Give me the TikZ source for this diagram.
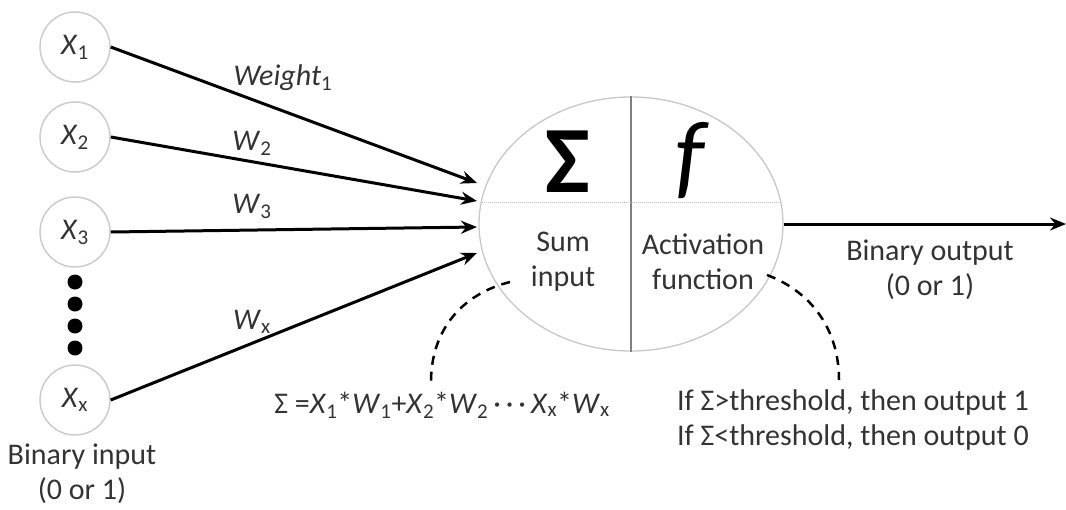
\documentclass[tikz,border=0pt]{standalone}
\usepackage{fontspec}
\setmainfont{Carlito}
\usetikzlibrary{shapes.geometric,arrows.meta}
\begin{document}
\begin{tikzpicture}[x=1pt,y=-1pt,
  inp/.style={circle,draw=black!20,line width=1.5pt,minimum size=70pt,inner sep=0pt,font=\fontsize{30}{36}\selectfont,text=black!80},
  txt/.style={font=\fontsize{30}{35}\selectfont,text=black!80,align=center,inner sep=0pt},
  wire/.style={line width=3pt,-{Stealth[length=16pt,width=13pt]}},
  dashcurve/.style={line width=2.5pt,dash pattern=on 9pt off 7pt},
  bigdot/.style={circle,fill=black,minimum size=15pt,inner sep=0pt},
  big/.style={font=\fontsize{95}{100}\selectfont,inner sep=0pt}]
\useasboundingbox (0,0) rectangle (1066,509);

% inputs
\node[inp] (x1) at (75,47)  {\textit{X}\textsubscript{1}};
\node[inp] (x2) at (75,137) {\textit{X}\textsubscript{2}};
\node[inp] (x3) at (75,232) {\textit{X}\textsubscript{3}};
\node[inp] (xx) at (75,400) {\textit{X}\textsubscript{x}};
\node[bigdot] (d1) at (75,282) {};
\node[bigdot] (d2) at (75,304) {};
\node[bigdot] (d3) at (75,326) {};
\node[bigdot] (d4) at (75,348) {};
\node[txt] (bin) at (82,474) {Binary input\\(0 or 1)};

% neuron
\node[ellipse,draw=black!22,line width=1.3pt,minimum width=304pt,minimum height=254pt,inner sep=0pt] (neuron) at (631,224) {};
\draw[black!50,line width=1.8pt] (neuron.north) -- (neuron.south);
\coordinate (hl) at (482,202);
\coordinate (hr) at (780,202);
\draw[black!25,line width=1pt,densely dotted] (hl) -- (hr);
\node[big] (sigma) at (568,162) {\bfseries Σ};
\node[big] (fsym) at (692,160) {\textit{f}};
\node[txt] (sum) at (563,262) {Sum\\input};
\node[txt] (act) at (703,262) {Activation\\function};

% weights
\coordinate (in1) at (477,183);
\coordinate (in2) at (477,201);
\coordinate (in3) at (477,227);
\coordinate (in4) at (477,253);
\draw[wire] (x1.east) -- (in1);
\draw[wire] (x2.east) -- (in2);
\draw[wire] (x3.east) -- (in3);
\draw[wire] (xx.east) -- (in4);
\node[txt] (w1) at (283,78) {\textit{Weight}\textsubscript{1}};
\node[txt] (w2) at (252,143) {\textit{W}\textsubscript{2}};
\node[txt] (w3) at (252,206) {\textit{W}\textsubscript{3}};
\node[txt] (wx) at (252,322) {\textit{W}\textsubscript{x}};

% output
\coordinate (out) at (1066,224);
\draw[wire] (neuron.east) -- (out);
\node[txt] (bout) at (930,270) {Binary output\\(0 or 1)};

% formulas
\node[txt] (form) at (442,405) {Σ =\textit{X}\textsubscript{1}*\textit{W}\textsubscript{1}+\textit{X}\textsubscript{2}*\textit{W}\textsubscript{2}\,·\,·\,·\,\textit{X}\textsubscript{x}*\textit{W}\textsubscript{x}};
\node[txt,align=left] (thr) at (853,420) {If Σ>threshold, then output 1\\If Σ<threshold, then output 0};

\coordinate (s1) at (510,282);
\coordinate (s2) at (431,382);
\draw[dashcurve] (s1) .. controls (462,294) and (431,330) .. (s2);
\coordinate (a1) at (767,275);
\coordinate (a2) at (839,380);
\draw[dashcurve] (a1) .. controls (812,292) and (839,330) .. (a2);
\end{tikzpicture}
\end{document}
